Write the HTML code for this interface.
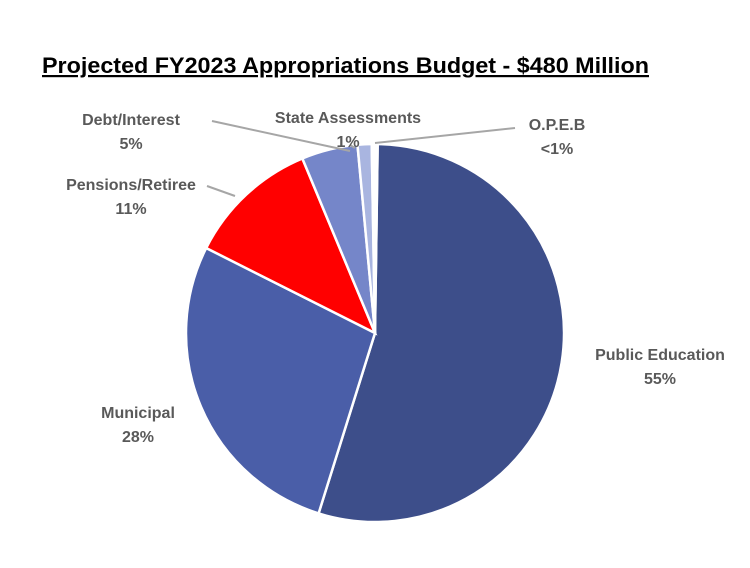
<!DOCTYPE html>
<html><head><meta charset="utf-8"><style>
body{margin:0;background:#fff;width:750px;height:563px;overflow:hidden;font-family:"Liberation Sans",sans-serif}
</style></head><body>
<svg width="750" height="563">
<text x="42" y="73" font-size="22" font-weight="bold" fill="#000" text-decoration="underline" textLength="607" lengthAdjust="spacingAndGlyphs">Projected FY2023 Appropriations Budget - $480 Million</text>
<g id="slices"></g>
<g id="labels" font-size="16" font-weight="bold" fill="#595959"></g>
</svg>
<script>
const categories=["Public Education","Municipal","Pensions/Retiree","Debt/Interest","State Assessments","O.P.E.B"];
const values=[54.6,27.6,11.3,4.8,1.2,0.5];
const pctLabels=["55%","28%","11%","5%","1%","<1%"];
const colors=["#3d4e8a","#4a5ea8","#ff0000","#7586c9","#a9b5e0","#ffffff"];
const cx=375,cy=333,r=189,start=0.8;
const labelPos=[[660,360],[138,418],[131,190],[131,125],[348,123],[557,130]];
const leaders=[null,null,[[207,186],[235,196]],[[212,121],[350,151]],[[350,145],[355,148]],[[515,128],[375,143]]];
const total=values.reduce((a,b)=>a+b,0);
const NS="http://www.w3.org/2000/svg";
const gs=document.getElementById('slices'),gl=document.getElementById('labels');
function pt(a){const t=(a-90)*Math.PI/180;return[cx+r*Math.cos(t),cy+r*Math.sin(t)];}
let acc=start;
values.forEach((v,i)=>{
 const a0=acc,a1=acc+v/total*360;acc=a1;
 const p0=pt(a0),p1=pt(a1);
 const p=document.createElementNS(NS,'path');
 p.setAttribute('d',`M${cx},${cy}L${p0[0]},${p0[1]}A${r},${r} 0 ${a1-a0>180?1:0} 1 ${p1[0]},${p1[1]}Z`);
 p.setAttribute('fill',colors[i]);p.setAttribute('stroke','#fff');p.setAttribute('stroke-width','2.5');
 
 
 gs.appendChild(p);
 if(leaders[i]){const l=document.createElementNS(NS,'polyline');
  l.setAttribute('points',leaders[i].map(q=>q.join(',')).join(' '));
  l.setAttribute('fill','none');l.setAttribute('stroke','#a6a6a6');l.setAttribute('stroke-width','2');
  
  
  gs.appendChild(l);}
 const t=document.createElementNS(NS,'text');
 t.setAttribute('x',labelPos[i][0]);t.setAttribute('y',labelPos[i][1]);t.setAttribute('text-anchor','middle');
 
 
 const s1=document.createElementNS(NS,'tspan');s1.setAttribute('x',labelPos[i][0]);s1.textContent=categories[i];
 const s2=document.createElementNS(NS,'tspan');s2.setAttribute('x',labelPos[i][0]);s2.setAttribute('dy','24');s2.textContent=pctLabels[i];
 t.appendChild(s1);t.appendChild(s2);gl.appendChild(t);
});
</script>
</body></html>
